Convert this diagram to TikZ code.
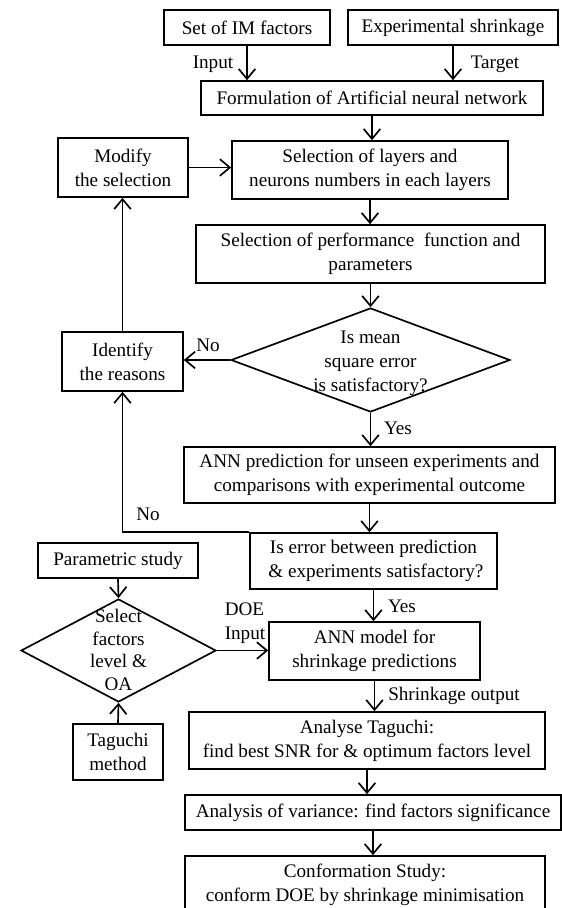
\documentclass[tikz,border=0pt]{standalone}
\usepackage{fontspec}
\setmainfont{Liberation Serif}
\usetikzlibrary{shapes.geometric}
\usetikzlibrary{arrows.meta}

\begin{document}
\begin{tikzpicture}[x=0.6pt,y=-0.6pt,line width=1pt,
  font=\fontsize{11.5}{14.5}\selectfont,
  >={Straight Barb[length=6pt,width=10pt]},
  box/.style={draw,align=center,inner sep=0pt},
  dia/.style={draw,diamond,inner sep=0pt},
  lbl/.style={inner sep=0pt,align=left}]
\def\px{0.6pt}
\useasboundingbox (0,0) rectangle (562,908);

% ANN part
\node[box,minimum width=166*\px,minimum height=35*\px] (setf) at (247,27.5) {Set of IM factors};
\node[box,minimum width=210*\px,minimum height=35*\px] (expt) at (453,27.5) {Experimental shrinkage};
\node[box,minimum width=342*\px,minimum height=34*\px] (form) at (372,98) {Formulation of Artificial neural network};
\node[box,minimum width=130*\px,minimum height=59*\px] (modify) at (123,167.5) {Modify\\the selection};
\node[box,minimum width=276*\px,minimum height=58*\px] (sellay) at (370,170) {Selection of layers and\\neurons numbers in each layers};
\node[box,minimum width=349*\px,minimum height=58*\px] (selperf) at (370.5,254) {Selection of performance \ function and\\parameters};
\node[dia,minimum width=279*\px,minimum height=104*\px] (msed) at (370.5,360) {};
\node[align=center] (msetxt) at (370.5,363) {Is mean\\square error\\is satisfactory?};
\node[box,minimum width=121*\px,minimum height=59*\px] (ident) at (122.5,361.5) {Identify\\the reasons};
\node[box,minimum width=371*\px,minimum height=56*\px] (annpred) at (369.5,475) {ANN prediction for unseen experiments and\\comparisons with experimental outcome};
\node[box,minimum width=247*\px,minimum height=56*\px] (errq) at (373.5,561) {Is error between prediction\\\ \& experiments satisfactory?};

% Taguchi part
\node[box,minimum width=160*\px,minimum height=35*\px] (param) at (118,560.5) {Parametric study};
\node[dia,minimum width=195*\px,minimum height=103*\px] (seld) at (118.5,650.5) {};
\node[align=center,font=\fontsize{11.5}{13.5}\selectfont] (seltxt) at (118.5,650) {Select\\factors\\level \&\\OA};
\node[box,minimum width=90*\px,minimum height=56*\px] (taguchi) at (118,752) {Taguchi\\method};
\node[box,minimum width=211*\px,minimum height=58*\px] (annmod) at (374.5,651) {ANN model for\\shrinkage predictions};
\node[box,minimum width=356*\px,minimum height=57*\px] (analyse) at (367,740.5) {Analyse Taguchi:\\find best SNR for \& optimum factors level};
\node[box,minimum width=376*\px,minimum height=35*\px] (anova) at (373,812.5) {Analysis of variance: find factors significance};
\node[box,minimum width=360*\px,minimum height=58*\px] (conf) at (365,885) {Conformation Study:\\conform DOE by shrinkage minimisation};

% labels
\node[lbl] (lin) at (213,64) {Input};
\node[lbl] (ltar) at (495,64) {Target};
\node[lbl] (lno1) at (208,345) {No};
\node[lbl] (lyes1) at (398,428) {Yes};
\node[lbl] (lno2) at (148,514) {No};
\node[lbl] (lyes2) at (402,606) {Yes};
\node[lbl] (ldoe) at (245,623) {DOE\\Input};
\node[lbl] (lshr) at (454,696) {Shrinkage output};

\draw[->] (setf.south) -- (setf.south |- form.north);
\draw[->] (expt.south) -- (expt.south |- form.north);
\draw[->] (form.south) -- (form.south |- sellay.north);
\draw[->] (modify.east) -- (modify.east -| sellay.west);
\draw[->] (sellay.south) -- (sellay.south |- selperf.north);
\draw[->] (selperf.south) -- (selperf.south |- msed.north);
\draw[->] (msed.west) -- (msed.west -| ident.east);
\draw[->] (ident.north) -- (ident.north |- modify.south);
\draw[->] (msed.south) -- (msed.south |- annpred.north);
\draw[->] (annpred.south) -- (annpred.south |- errq.north);
\draw[->] (errq.north west) -- (errq.north west -| ident.south) -- (ident.south);
\draw[->] (errq.south) -- (errq.south |- annmod.north);
\draw[->] (param.south) -- (seld.north);
\draw[->] (taguchi.north) -- (seld.south);
\draw[->] (seld.east) -- (seld.east -| annmod.west);
\draw[->] (annmod.south) -- (annmod.south |- analyse.north);
\draw[->] (analyse.south) -- (analyse.south |- anova.north);
\draw[->] (anova.south) -- (anova.south |- conf.north);
\end{tikzpicture}
\end{document}
